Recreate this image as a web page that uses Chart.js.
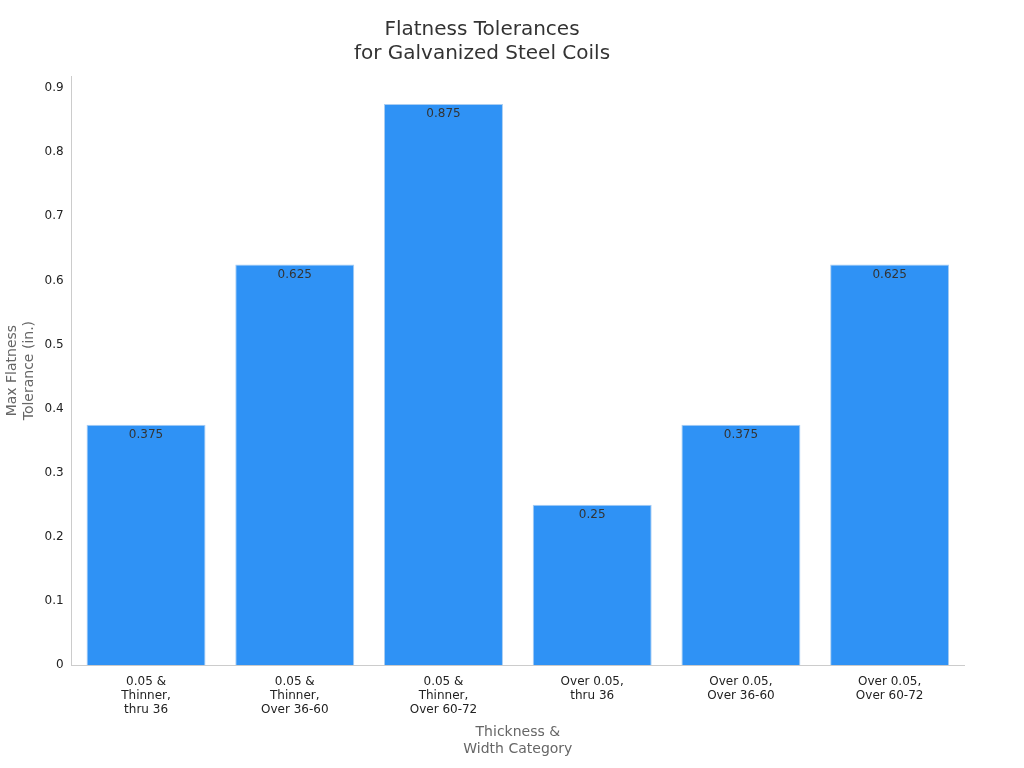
<!DOCTYPE html>
<html><head><meta charset="utf-8">
<script src="https://cdn.jsdelivr.net/npm/chart.js@4"></script>
<style>html,body{margin:0;padding:0;background:#fff}#w{width:1024px;height:768px}</style>
</head><body><div id="w"><canvas id="c"></canvas></div>
<script>
const categories = [["0.05 &","Thinner,","thru 36"],["0.05 &","Thinner,","Over 36-60"],["0.05 &","Thinner,","Over 60-72"],["Over 0.05,","thru 36"],["Over 0.05,","Over 36-60"],["Over 0.05,","Over 60-72"]];
const values = [0.375,0.625,0.875,0.25,0.375,0.625];
const yTicks = [0,0.1,0.2,0.3,0.4,0.5,0.6,0.7,0.8,0.9];
Chart.defaults.font.family = "DejaVu Sans";
const labelPlugin = {id:'lbl',afterDatasetsDraw(chart){
  const ctx=chart.ctx; const meta=chart.getDatasetMeta(0);
  ctx.save(); ctx.font='12px DejaVu Sans'; ctx.fillStyle='#333'; ctx.textAlign='center'; ctx.textBaseline='top';
  meta.data.forEach((b,i)=>ctx.fillText(String(values[i]),b.x,b.y+4));
  ctx.restore();}};
new Chart(document.getElementById('c'),{
  type:'bar',
  data:{labels:categories,datasets:[{data:values,backgroundColor:'#2f92f5',borderColor:'#a9cdf2',borderWidth:1,categoryPercentage:1,barPercentage:0.8}]},
  options:{responsive:true,maintainAspectRatio:false,animation:false,
    layout:{padding:{left:0,right:60,top:10,bottom:6}},
    plugins:{legend:{display:false},tooltip:{enabled:false},
      title:{display:true,text:["Flatness Tolerances","for Galvanized Steel Coils"],color:'#333',font:{size:20,weight:'normal'},padding:{top:8,bottom:10}}},
    scales:{
      x:{grid:{display:false,drawTicks:true,tickLength:6},border:{color:'#ccc'},ticks:{color:'#222',font:{size:12},maxRotation:0},
        title:{display:true,text:["Thickness &","Width Category"],color:'#666',font:{size:14}}},
      y:{min:0,max:0.91875,afterBuildTicks(ax){ax.ticks=yTicks.map(v=>({value:v}));},
        grid:{display:false,drawTicks:true,tickLength:5},border:{color:'#ccc'},
        ticks:{color:'#222',font:{size:12},callback:v=>String(v)},
        title:{display:true,text:["Max Flatness","Tolerance (in.)"],color:'#666',font:{size:14}}}
    }},
  plugins:[labelPlugin]
});
</script></body></html>
